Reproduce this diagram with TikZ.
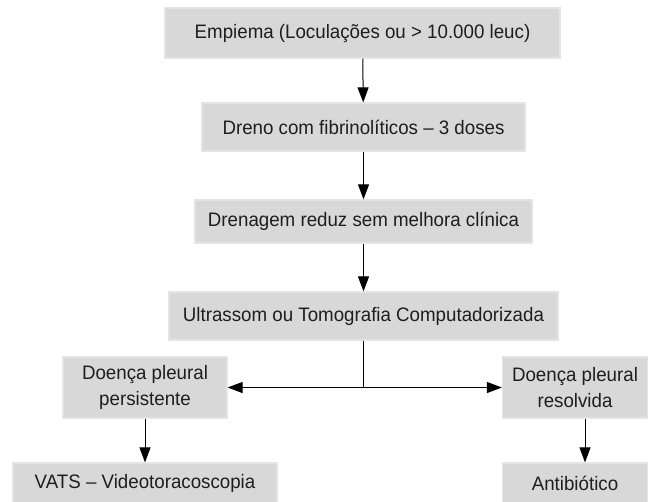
\documentclass[tikz,border=0pt]{standalone}
\usepackage{fontspec}
\setmainfont{Liberation Sans}[FakeStretch=0.96]
\usepackage{tikz}
\usetikzlibrary{positioning, arrows.meta}
\definecolor{boxgray}{RGB}{216,216,216}
\definecolor{boxedge}{RGB}{228,228,228}
\definecolor{inkgray}{RGB}{30,30,30}
\tikzset{
    x=1pt, y=-1pt, % pixel-like units, y going down
    >={Triangle[length=15pt,width=11pt]}, % big filled arrow heads
    every box/.style={fill=boxgray, draw=boxedge, line width=1.2pt, inner sep=0pt,
        align=center, text=inkgray, font=\fontsize{19.5}{26}\selectfont}, % the gray boxes
    link/.style={->, line width=1pt}, % connectors
}

\begin{document}
\begin{tikzpicture}
\useasboundingbox (0,0) rectangle (656,501);
\node[every box, minimum width=395pt, minimum height=50pt] (empiema)  at (362.5,33)  {Empiema (Loculações ou > 10.000 leuc)};
\node[every box, minimum width=323pt, minimum height=48pt] (dreno)    at (363.5,127) {Dreno com fibrinolíticos -- 3 doses};
\node[every box, minimum width=337pt, minimum height=43pt] (drenagem) at (363.5,221.5) {Drenagem reduz sem melhora clínica};
\node[every box, minimum width=389pt, minimum height=48pt] (imagem)   at (363.5,316) {Ultrassom ou Tomografia Computadorizada};
\node[every box, minimum width=164pt, minimum height=61pt] (persist)  at (145,387.5) {Doença pleural\\persistente};
\node[every box, minimum width=145pt, minimum height=61pt] (resolv)   at (575,387.5) {Doença pleural\\resolvida};
\node[every box, minimum width=264pt, minimum height=40pt] (vats)     at (145,483)   {VATS -- Videotoracoscopia};
\node[every box, minimum width=145pt, minimum height=40pt] (antib)    at (575,483)   {Antibiótico};
\coordinate (split) at (363.5,387.5);
\path[link]
(empiema)  edge (dreno)
(dreno)    edge (drenagem)
(drenagem) edge (imagem)
(split)    edge (persist)
(split)    edge (resolv)
(persist)  edge (vats)
([xshift=10pt]resolv.south) edge ([xshift=10pt]antib.north);
\draw[line width=1pt] (imagem) -- (split);
\end{tikzpicture}
\end{document}
